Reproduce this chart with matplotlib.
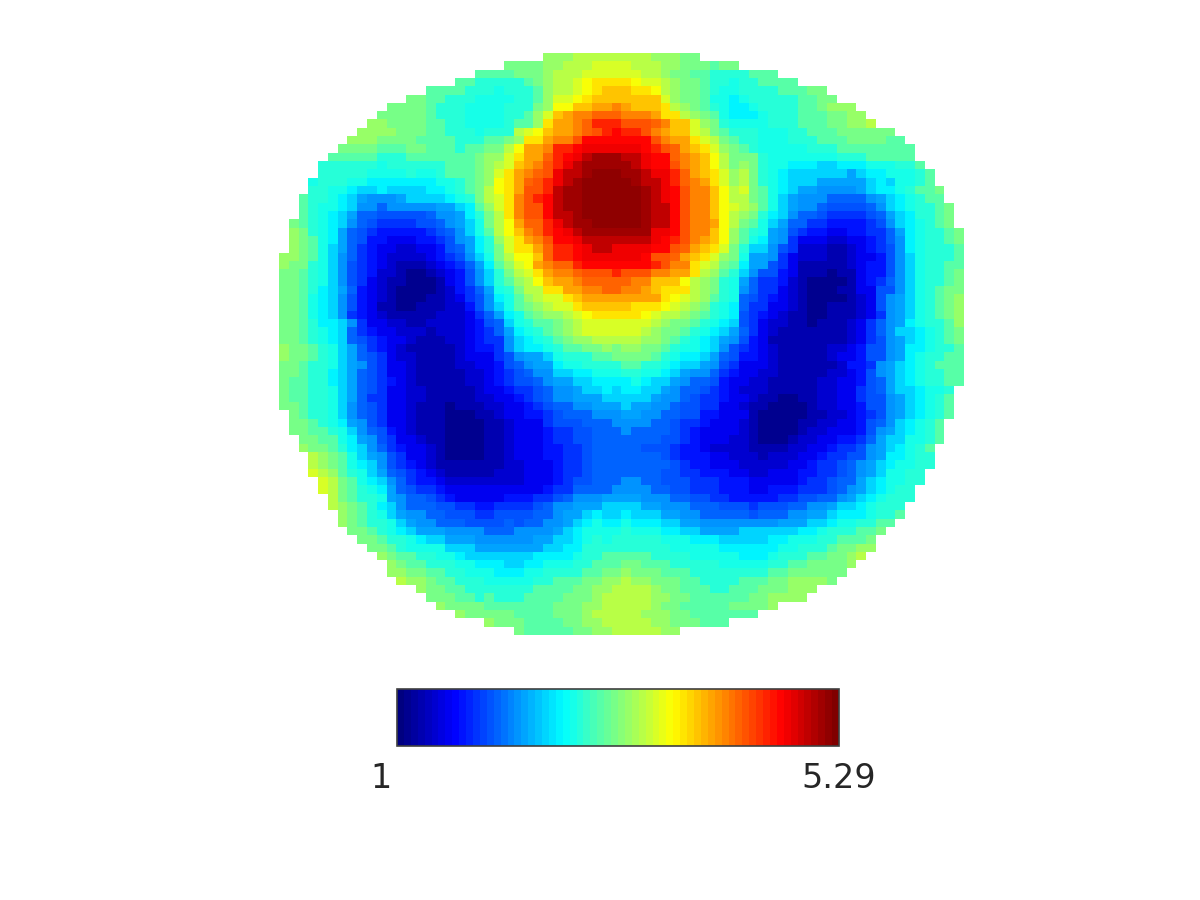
import numpy as np
import matplotlib
matplotlib.use('Agg')
import matplotlib.pyplot as plt
from matplotlib.colors import LinearSegmentedColormap

# each character is one cell, base 32 level (0-v) between vmin and vmax
# left_rows end at column 34, right_rows start at column 35
left_rows = [
    "ggghhhhh",
    "ffffgghhhiii",
    "eeeefffghhhiiii",
    "eedddddefghhijkkk",
    "eeeedddcdddeghhijkll",
    "ffeedddccccddegiijklll",
    "ffffedddccccdddfgjjllmmn",
    "fffffedddccccddegilmnnooo",
    "ggffffeeddccccdeegkmmnoqqq",
    "ggggfffeedddcdddhijlmmnopqr",
    "gggffffeeeedddeefgkkmnnprrrr",
    "ffffeeeffeeedeeffhjmmnqqrssss",
    "eeeeedddeeeeeeefggikmmoqrstuuu",
    "ddddddcddddddeeefghilmnpqstuuuu",
    "dddddccccdccdeeefgikmnopsttuvvv",
    "cdddccbbbbbbbccdefgjkmopqstuvvvv",
    "ddccbaabaaaabbcdefhjkmppqtuuvvvv",
    "eddcba98889aaaabcdfhiknpqrtuuvvvv",
    "edccba8878888899abegiknpprtuuvvvv",
    "edcba977666667889bdfhknpprttuvvvv",
    "fedcba876555566789acfhjmooqstuuvvv",
    "gfdcb9765444445678acehjlnoqrstuuuu",
    "gfecb97644333445689bdgikmnprrstttt",
    "gfeca97543322334679bdfikkmoqqrstts",
    "ggfeca87543222234568acfhjjloqqrssss",
    "gffdca865432111234579begijmnooqrrrr",
    "ffedca865422100123468adfhikmnnopppq",
    "ffedca865321100013468adeghjlmmnoooo",
    "ffedba9743210000124579cdfhhkkmmnnoo",
    "ffecba8643210001123568bceghiiklmmmm",
    "ffecba8643110011122468acefghiikllll",
    "ffecba85432111112223579bcefgghijkkk",
    "ffedbba8533221122223467acdeefghiiii",
    "ffedcba75433222122234579bcdefghiiii",
    "ffedcba76543321112234558abcdefgghhh",
    "gffedca97543211111234458abbcdeeffgf",
    "gffedca97653221111233356899acdddeef",
    "ffeddca986533211112233467899bccdddd",
    "ffeddba976533211111223456788aabbccc",
    "feeddba97654321111122345667899aabbb",
    "feeddca976533221111123345567889aaba",
    "feeddca97553322111112233456788999aa",
    "ffeddca8765332111011122334567788999",
    "feddca8765332111000112334456777888",
    "ffedcb9865332111000011233356667778",
    "ffeedca876432111000011233345566777",
    "ffeecb986533211000011233345566777",
    "gffedba87543321000011233344556777",
    "hgfeca98653321000011233344556777",
    "hgfecba8654321111111223334556777",
    "ihgedca9765432111112223334556777",
    "ihfecba875443222222223334566777",
    "ihfedcb976554333333333345577778",
    "hfeddc987765433333444556788899",
    "hgfedba877766554455556788999aa",
    "gfedca9887766655666677899abaa",
    "gfeddca98877766667677889abcbb",
    "ffedcba999888877788889abcccc",
    "ffeddcbaa99988888899aabcdcd",
    "ffedccccaaa9999999aabbdddd",
    "gfeeddccbaaaaaaabbbbcddee",
    "gfeedddccbbbaabbcccddeee",
    "ggffeeddcccbbbccddddeeff",
    "hggfeedddcccccddeeeffgg",
    "gffeedddddddeeeeffggh",
    "fffeededddeeeefffghh",
    "gffffeeeeeeefffgghh",
    "gfffffeeeefffghhh",
    "gfffeeeeffgghh",
    "feeeeeffggh",
]

right_rows = [
    "hhhgggff",
    "ihhhggfffeff",
    "iihhgffeeddddeee",
    "kjiihgffeddcddeeee",
    "lkkjhgffedccddddeeeff",
    "lllligffeccbcdddddeeff",
    "mlllkhgfedcbbcddddeefggg",
    "nnnmkkhgfecbbbcdddeeeffgg",
    "ppponlligfdccccdddeeeffggh",
    "qqpnmllihfedddcccddeeeffffff",
    "rrrpnmmkihfeddcccdddeeeffffee",
    "ssrqpomlkigfedcccccdddeeeeeeee",
    "ttsrronmljhfffdcccccccdddeeeee",
    "utsrrpnmljhfgfdccbbbaabbbcccdde",
    "uutssqomlkighfdcbaaaaaa9abbcccde",
    "vuttsqonmkighfdcbaaa99999abaccde",
    "vvutsrpnnljhifecba9988889abbcdeef",
    "vvutsrpnnljhhfeca9888777789abcdee",
    "vvuttrpnnljihgeca9887666678abcddef",
    "vvuttrpnnljhgfdba87765555679abddef",
    "vvuttrpnnmjhfeca977554444568abcdef",
    "uuussrpnnljgedc98654433445579bcddef",
    "tttsrqpnmljgecb98533322334578bcddef",
    "sssrrpomlkifdaa86522211234568bcddde",
    "ssrppomlkigfc9985322211233468acddde",
    "rrrqpnnkihfeb9965311111234468acddee",
    "pppnnmmkhgeda8664311101134468acddef",
    "onnllljhgfdc97554210000134578acddef",
    "nnmlkkkhgfdc87553210001133668acdeff",
    "mmmmkjihgedc76543210000123689acdefg",
    "lkkkjihgfdcb75533210011123689acdefg",
    "kkjihhgfedcb65432110011123589acdefg",
    "iiihgffedcba65322110111235789bcddeg",
    "iihgffedcba97532111111123578aabcdef",
    "hhggfedcba9864311111111235689abcdef",
    "ggffedccba8654321111122346689bbcdde",
    "fffedcbba97644321111123346689bcddee",
    "eeddcbaa98653332111111244589abcdeee",
    "ddccba9887543322111112234689abcddee",
    "bcbaa98776433221111122334679abcddee",
    "bbaa987765432221111122335679aabccd",
    "aaa98876554332110011223356689abcde",
    "a9988766553321100001223346689abcde",
    "99887766443331000001122345689abcde",
    "8887765543332100001122334678abcde",
    "8777765433332100001223334689abcde",
    "777766543332210001223344579aaccde",
    "776665443222211112233455689abcde",
    "777765444332221222334556689bbcdd",
    "77777654433322222334556789abccdd",
    "77776655444332233344556789accdd",
    "8877666555444333334556779abccdd",
    "8887766555444334445556789abcdd",
    "998887766554444455667789abcddd",
    "aa99888777666566677889aabcddd",
    "baaa99887777767778899abbbcdde",
    "cbbbaa9988888888999aabccddee",
    "dcccbbaa9999aaaaaabbcdddeef",
    "ddddcccbbbaaaaabbcccddeeef",
    "dddddcccccbbbbbbccdddeffgg",
    "eeeddddcccccbbbcdddeeffgh",
    "ffeeedddddcccccddeeffffg",
    "gfffeeeddddddddeeffffff",
    "hggfffeeddddeeeffggggf",
    "hhhgffeeeddeeefffggg",
    "hhhggffeeeeeeffgggg",
    "hhhgffeeeeeffffg",
    "hhgggffeeeeeee",
    "hhhggfffeee",
    "hhhhgg",
]

vmin = 1
vmax = 5.29
bar_labels = ['1', '5.29']

grid = np.full((70, 70), np.nan)
for i in range(70):
    left = left_rows[i]
    right = right_rows[i]
    for j, c in enumerate(left):
        grid[i, 35 - len(left) + j] = vmin + (int(c, 32) + 0.5) / 32 * (vmax - vmin)
    for j, c in enumerate(right):
        grid[i, 35 + j] = vmin + (int(c, 32) + 0.5) / 32 * (vmax - vmin)

W, H = 1200, 900
fig = plt.figure(figsize=(12, 9), dpi=100)

# matlab style jet, the matplotlib one has cyan and yellow in other places
jet_colors = [(0, (0, 0, 0.5)), (0.125, (0, 0, 1)), (0.375, (0, 1, 1)),
              (0.625, (1, 1, 0)), (0.875, (1, 0, 0)), (1, (0.5, 0, 0))]
cmap = LinearSegmentedColormap.from_list('matlab_jet', jet_colors, N=64)
cmap.set_bad((1, 1, 1, 0))

ax = fig.add_axes([279 / W, 1 - 635 / H, 685 / W, 582 / H])
im = ax.imshow(grid, cmap=cmap, vmin=vmin, vmax=vmax, aspect='auto',
               interpolation='nearest')
ax.axis('off')

cax = fig.add_axes([397 / W, 1 - 746 / H, 442 / W, 57 / H])
cb = fig.colorbar(im, cax=cax, orientation='horizontal')
cb.set_ticks([])
cb.outline.set_edgecolor('#404040')
cb.outline.set_linewidth(1.2)

fig.text(381 / W, 1 - 778 / H, bar_labels[0], fontsize=24, color='#262626',
         ha='center', va='center')
fig.text(839 / W, 1 - 778 / H, bar_labels[1], fontsize=24, color='#262626',
         ha='center', va='center')

fig.savefig('out.png', dpi=100)
